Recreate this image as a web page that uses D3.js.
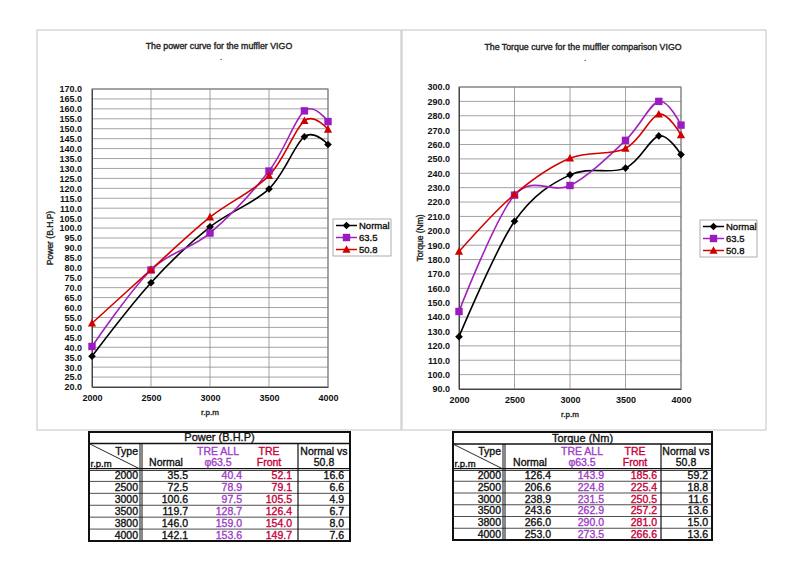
<!DOCTYPE html>
<html><head><meta charset="utf-8">
<script src="https://cdn.jsdelivr.net/npm/d3@7"></script>
<style>
html,body{margin:0;padding:0;background:#fff;}
svg{display:block;font-family:"Liberation Sans",Arial,sans-serif;}
</style></head>
<body>
<svg id="c" width="800" height="566"></svg>
<script>
// ---------- DATA ----------
const rpm = [2000, 2500, 3000, 3500, 3800, 4000];
const xTicks = [2000, 2500, 3000, 3500, 4000];
const seriesNames = ["Normal", "63.5", "50.8"];
const powerNormal = [35.5, 72.5, 100.6, 119.7, 146.0, 142.1];
const power635 = [40.4, 78.9, 97.5, 128.7, 159.0, 153.6];
const power508 = [52.1, 79.1, 105.5, 126.4, 154.0, 149.7];
const powerDiff = [16.6, 6.6, 4.9, 6.7, 8.0, 7.6];
const torqueNormal = [126.4, 206.6, 238.9, 243.6, 266.0, 253.0];
const torque635 = [143.9, 224.8, 231.5, 262.9, 290.0, 273.5];
const torque508 = [185.6, 225.4, 250.5, 257.2, 281.0, 266.6];
const torqueDiff = [59.2, 18.8, 11.6, 13.6, 15.0, 13.6];
const powerTicks = d3.range(20, 170.001, 5);
const torqueTicks = d3.range(90, 300.001, 10);

// ---------- STYLE ----------
const colors = ["#000000", "#a020c0", "#d40000"];
const markerFill = ["#000000", "#9a1cc0", "#d00000"];
const tblColors = ["#111", "#a23cc8", "#c8003a", "#111"];
const svg = d3.select("#c");

function medium(sel, col) {
  return sel.attr("stroke", col).attr("stroke-width", 0.35).attr("paint-order", "stroke");
}

function drawChart(o) {
  const g = svg.append("g");
  g.append("rect").attr("x", o.panel[0]).attr("y", o.panel[1])
    .attr("width", o.panel[2]).attr("height", o.panel[3])
    .attr("fill", "#fff").attr("stroke", "#c4c4c4").attr("stroke-width", 1);
  const x = d3.scaleLinear().domain([2000, 4000]).range([o.x0, o.x1]);
  const y = d3.scaleLinear().domain(o.yDomain).range([o.y1, o.y0]);
  g.append("g").selectAll("line").data(o.yTicks).join("line")
    .attr("x1", o.x0).attr("x2", o.x1)
    .attr("y1", d => y(d)).attr("y2", d => y(d))
    .attr("stroke", "#8c8c8c").attr("stroke-width", 0.8);
  g.append("g").selectAll("line").data(xTicks).join("line")
    .attr("y1", o.y0).attr("y2", o.y1)
    .attr("x1", d => x(d)).attr("x2", d => x(d))
    .attr("stroke", "#8c8c8c").attr("stroke-width", 0.8);
  g.append("rect").attr("x", o.x0).attr("y", o.y0)
    .attr("width", o.x1 - o.x0).attr("height", o.y1 - o.y0)
    .attr("fill", "none").attr("stroke", "#777").attr("stroke-width", 1);
  const ya = d3.axisLeft(y).tickValues(o.yTicks).tickFormat(d3.format(".1f")).tickSize(0).tickPadding(o.yPad);
  const yg = g.append("g").attr("transform", `translate(${o.x0},0)`).call(ya);
  yg.select(".domain").attr("stroke", "#444");
  yg.selectAll("text").attr("font-size", 9).attr("font-weight", "bold").attr("fill", "#111")
    .attr("font-family", "Liberation Sans, Arial, sans-serif");
  const xa = d3.axisBottom(x).tickValues(xTicks).tickFormat(d3.format("d")).tickSize(0).tickPadding(8);
  const xg = g.append("g").attr("transform", `translate(0,${o.y1})`).call(xa);
  xg.select(".domain").attr("stroke", "#444");
  xg.selectAll("text").attr("font-size", 9).attr("font-weight", "bold").attr("fill", "#111")
    .attr("font-family", "Liberation Sans, Arial, sans-serif");
  medium(g.append("text").attr("x", o.titleX).attr("y", o.titleY).attr("text-anchor", "middle")
    .attr("font-size", 8.8).attr("fill", "#222").text(o.title), "#222");
  g.append("text").attr("x", o.titleX + 2).attr("y", o.titleY + 11).attr("text-anchor", "middle")
    .attr("font-size", 8).attr("font-weight", "bold").attr("fill", "#444").text(".");
  medium(g.append("text").attr("x", (o.x0 + o.x1) / 2).attr("y", o.y1 + 28).attr("text-anchor", "middle")
    .attr("font-size", 8).attr("fill", "#222").text("r.p.m"), "#222");
  medium(g.append("text").attr("transform", `translate(${o.yTitleX},${(o.y0 + o.y1) / 2}) rotate(-90)`)
    .attr("text-anchor", "middle").attr("font-size", 8.5).attr("fill", "#222").text(o.yTitle), "#222");
  const line = d3.line().x((d, i) => x(rpm[i])).y(d => y(d)).curve(d3.curveCatmullRom.alpha(0));
  o.series.forEach((s, k) => {
    g.append("path").attr("d", line(s)).attr("fill", "none")
      .attr("stroke", colors[k]).attr("stroke-width", 1.6);
  });
  o.series.forEach((s, k) => {
    const mg = g.append("g");
    s.forEach((v, i) => drawMarker(mg, k, x(rpm[i]), y(v)));
  });
  const L = o.legend;
  g.append("rect").attr("x", L[0]).attr("y", L[1]).attr("width", L[2]).attr("height", L[3])
    .attr("fill", "#fff").attr("stroke", "#999").attr("stroke-width", 0.8);
  seriesNames.forEach((n, k) => {
    const yy = L[1] + 6.5 + k * 12;
    g.append("line").attr("x1", L[0] + 3).attr("x2", L[0] + 24).attr("y1", yy).attr("y2", yy)
      .attr("stroke", colors[k]).attr("stroke-width", 1.5);
    drawMarker(g, k, L[0] + 13.5, yy);
    medium(g.append("text").attr("x", L[0] + 26).attr("y", yy + 3.5).attr("font-size", 9.5)
      .attr("fill", "#111").text(n), "#111");
  });
}

function drawMarker(g, k, cx, cy) {
  if (k === 0) {
    g.append("path").attr("d", `M${cx},${cy - 3.8}L${cx + 3.8},${cy}L${cx},${cy + 3.8}L${cx - 3.8},${cy}Z`)
      .attr("fill", markerFill[0]);
  } else if (k === 1) {
    g.append("rect").attr("x", cx - 3.7).attr("y", cy - 3.7).attr("width", 7.4).attr("height", 7.4)
      .attr("fill", markerFill[1]);
  } else {
    g.append("path").attr("d", `M${cx},${cy - 4.3}L${cx + 4.1},${cy + 3.3}L${cx - 4.1},${cy + 3.3}Z`)
      .attr("fill", markerFill[2]);
  }
}

drawChart({
  panel: [37, 30, 364, 400],
  x0: 92, x1: 328, y0: 89, y1: 387,
  yDomain: [20, 170], yTicks: powerTicks, yPad: 10,
  title: "The power curve for the muffler VIGO", titleX: 219, titleY: 49,
  yTitle: "Power (B.H.P)", yTitleX: 53,
  series: [powerNormal, power635, power508],
  legend: [333, 219, 58, 37]
});
drawChart({
  panel: [402, 30, 364, 400],
  x0: 459, x1: 681, y0: 87, y1: 389,
  yDomain: [90, 300], yTicks: torqueTicks, yPad: 9,
  title: "The Torque curve for the muffler comparison VIGO", titleX: 583, titleY: 50,
  yTitle: "Torque (Nm)", yTitleX: 423,
  series: [torqueNormal, torque635, torque508],
  legend: [700, 220, 57, 37]
});

// ---------- TABLES ----------
function drawTable(o) {
  const g = svg.append("g").attr("font-size", 10.5).attr("fill", "#111");
  const [L, T, R, B] = o.box;
  const c = o.cols;
  const rowTop = o.dataTop, rowH = (B - rowTop) / rpm.length;
  g.append("rect").attr("x", L).attr("y", T).attr("width", R - L).attr("height", B - T)
    .attr("fill", "#fff");
  for (let i = 1; i < rpm.length; i++) {
    g.append("line").attr("x1", L).attr("x2", R).attr("y1", rowTop + i * rowH).attr("y2", rowTop + i * rowH)
      .attr("stroke", "#222").attr("stroke-width", 0.8);
  }
  g.append("line").attr("x1", L).attr("x2", R).attr("y1", o.titleBottom).attr("y2", o.titleBottom)
    .attr("stroke", "#111").attr("stroke-width", 1.3);
  g.append("line").attr("x1", L).attr("x2", R).attr("y1", rowTop - 1).attr("y2", rowTop - 1)
    .attr("stroke", "#111").attr("stroke-width", 1);
  g.append("line").attr("x1", L).attr("x2", R).attr("y1", rowTop + 0.8).attr("y2", rowTop + 0.8)
    .attr("stroke", "#111").attr("stroke-width", 1);
  g.append("line").attr("x1", c[1] - 1).attr("x2", c[1] - 1).attr("y1", o.titleBottom).attr("y2", B)
    .attr("stroke", "#111").attr("stroke-width", 1);
  g.append("line").attr("x1", c[1] + 1).attr("x2", c[1] + 1).attr("y1", o.titleBottom).attr("y2", B)
    .attr("stroke", "#111").attr("stroke-width", 1);
  g.append("line").attr("x1", c[4]).attr("x2", c[4]).attr("y1", o.titleBottom).attr("y2", B)
    .attr("stroke", "#111").attr("stroke-width", 1.2);
  g.append("line").attr("x1", L).attr("y1", o.titleBottom).attr("x2", c[1] - 2).attr("y2", rowTop - 1)
    .attr("stroke", "#111").attr("stroke-width", 0.9);
  g.append("rect").attr("x", L).attr("y", T).attr("width", R - L).attr("height", B - T)
    .attr("fill", "none").attr("stroke", "#111").attr("stroke-width", 2);
  const t = (x, y, txt, anchor, col, size) => medium(g.append("text").attr("x", x).attr("y", y)
    .attr("text-anchor", anchor).attr("fill", col).attr("font-size", size || 10.5).text(txt), col);
  t((L + R) / 2, o.titleBottom - 2.5, o.title, "middle", "#111", 11);
  t(c[1] - 3, o.titleBottom + 11, "Type", "end", "#111");
  t(L + 1.5, rowTop - 3, "r.p.m", "start", "#111", 9.5);
  const hdr = [["", "Normal"], ["TRE ALL", "φ63.5"], ["TRE", "Front"], ["Normal vs", "50.8"]];
  hdr.forEach((h, k) => {
    if (h[0]) t(o.hdrX[k], o.titleBottom + 11, h[0], "middle", tblColors[k]);
    t(o.hdrX[k], rowTop - 3.5, h[1], "middle", tblColors[k]);
  });
  rpm.forEach((r, i) => {
    const yy = rowTop + (i + 1) * rowH - 2.2;
    t(c[1] - 3, yy, r, "end", "#111");
    o.values.forEach((arr, k) => {
      t(o.valX[k], yy, d3.format(".1f")(arr[i]), "end", tblColors[k]);
    });
  });
}

drawTable({
  box: [89, 432, 350, 541], cols: [89, 141, 192, 244, 298, 350],
  titleBottom: 443.5, dataTop: 469.5,
  title: "Power (B.H.P)",
  hdrX: [166, 218, 269, 324],
  valX: [188, 242, 292, 344],
  values: [powerNormal, power635, power508, powerDiff]
});
drawTable({
  box: [453, 432, 712, 540], cols: [453, 504, 553, 607, 661, 712],
  titleBottom: 444, dataTop: 469.5,
  title: "Torque (Nm)",
  hdrX: [530, 582, 635, 686],
  valX: [551, 604, 657, 708],
  values: [torqueNormal, torque635, torque508, torqueDiff]
});
</script>
</body></html>
